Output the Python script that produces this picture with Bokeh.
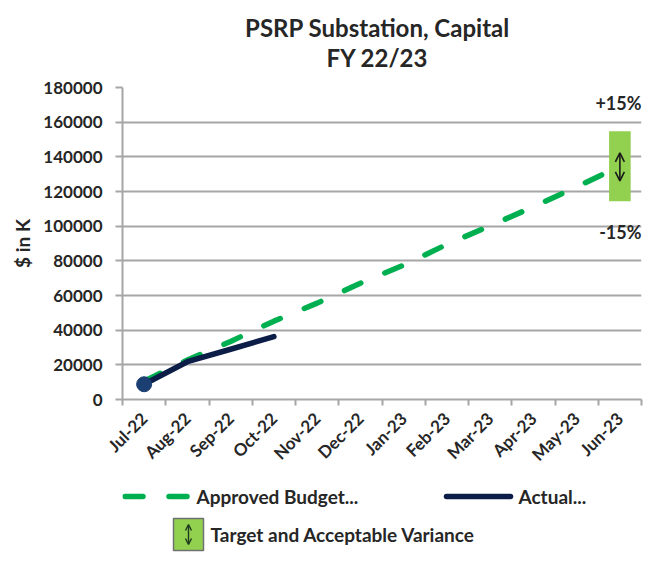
import numpy as np
from bokeh.plotting import figure
from bokeh.layouts import column
from bokeh.models import (Range1d, FixedTicker, Label, Arrow, OpenHead,
                          ColumnDataSource)
from bokeh.embed import file_html
from bokeh.resources import INLINE

# ---------------- data ----------------
months = ["Jul-22", "Aug-22", "Sep-22", "Oct-22", "Nov-22", "Dec-22",
          "Jan-23", "Feb-23", "Mar-23", "Apr-23", "May-23", "Jun-23"]
approved_budget = [10500, 22800, 33500, 45200, 55600, 67100,
                   77500, 89500, 100200, 111200, 122700, 134600]
actual = [8800, 21800, 29000, 36300]
variance_pct = 0.15
y_ticks = [0, 20000, 40000, 60000, 80000, 100000, 120000, 140000, 160000, 180000]
title_lines = ["PSRP Substation, Capital", "FY 22/23"]
legend_labels = ["Approved Budget...", "Actual...", "Target and Acceptable Variance"]

FONT = "Lato"
TXT = "#262626"
GRID = "#a6a6a6"
GREEN = "#00B050"
NAVY = "#0c1d47"
LIGHTGREEN = "#92D050"
W = 668
FL, FR = 122, 641   # frame left / right in page pixels


def blank(height):
    f = figure(width=W, height=height, output_backend="svg", toolbar_location=None,
               x_range=Range1d(FL, FR), y_range=Range1d(height, 0),
               min_border_left=FL, min_border_right=W - FR,
               min_border_top=0, min_border_bottom=0, outline_line_color=None)
    f.axis.visible = False
    f.grid.visible = False
    f.background_fill_color = "white"
    f.border_fill_color = "white"
    return f


# ---------------- title ----------------
tf = blank(72)
tf.text(x=[377, 377], y=[27, 57], text=title_lines, text_font={"value": FONT},
        text_font_size="24px", text_font_style="bold", text_color=TXT,
        text_align="center", text_baseline="middle")

# ---------------- main chart ----------------
xc = np.arange(len(months)) + 0.5
src_b = ColumnDataSource(dict(x=xc, y=approved_budget))
src_a = ColumnDataSource(dict(x=xc[:len(actual)], y=actual))

p = figure(width=W, height=406, output_backend="svg", toolbar_location=None,
           x_range=Range1d(0, 12), y_range=Range1d(0, 180000),
           min_border_left=FL, min_border_right=W - FR, min_border_top=15,
           min_border_bottom=79, outline_line_color=None)
p.background_fill_color = "white"
p.border_fill_color = "white"

# y axis
p.yaxis.ticker = FixedTicker(ticks=y_ticks)
p.yaxis.formatter.use_scientific = False
p.yaxis.axis_line_color = GRID
p.yaxis.axis_line_width = 2
p.yaxis.major_tick_line_color = GRID
p.yaxis.major_tick_line_width = 2
p.yaxis.major_tick_out = 7
p.yaxis.major_tick_in = 0
p.yaxis.minor_tick_line_color = None
p.yaxis.major_label_text_font = FONT
p.yaxis.major_label_text_font_size = "17px"
p.yaxis.major_label_text_font_style = "bold"
p.yaxis.major_label_text_color = TXT
p.yaxis.major_label_standoff = 13
p.yaxis.axis_label = "$ in K"
p.yaxis.axis_label_text_font = FONT
p.yaxis.axis_label_text_font_size = "19px"
p.yaxis.axis_label_text_font_style = "bold"
p.yaxis.axis_label_text_color = TXT
p.yaxis.axis_label_standoff = 6

# x axis
p.xaxis.ticker = FixedTicker(ticks=list(xc), minor_ticks=list(range(13)))
p.xaxis.major_label_overrides = {float(x): m for x, m in zip(xc, months)}
p.xaxis.major_label_orientation = np.pi / 4
p.xaxis.axis_line_color = GRID
p.xaxis.axis_line_width = 2
p.xaxis.major_tick_line_color = None
p.xaxis.minor_tick_line_color = GRID
p.xaxis.minor_tick_line_width = 2
p.xaxis.minor_tick_out = 6
p.xaxis.minor_tick_in = 0
p.xaxis.major_label_text_font = FONT
p.xaxis.major_label_text_font_size = "17px"
p.xaxis.major_label_text_font_style = "bold"
p.xaxis.major_label_text_color = TXT
p.xaxis.major_label_standoff = 10

p.xgrid.grid_line_color = None
p.ygrid.grid_line_color = GRID
p.ygrid.grid_line_width = 2

# series
p.line("x", "y", source=src_b, line_color=GREEN, line_width=5.5,
       line_dash="18 26", line_cap="round")
p.line("x", "y", source=src_a, line_color=NAVY, line_width=5.5,
       line_cap="round", line_join="round")
p.scatter(x=[xc[0]], y=[actual[0]], size=15, fill_color="#1b3f73",
          line_color="#1b3f73")

# target & acceptable variance
jun = approved_budget[-1]
p.vbar(x=[xc[-1]], width=0.5, bottom=[jun * (1 - variance_pct)],
       top=[jun * (1 + variance_pct)], fill_color=LIGHTGREEN, line_color=None)
p.add_layout(Arrow(x_start=xc[-1], y_start=jun * 0.937, x_end=xc[-1], y_end=jun * 1.057,
                   start=OpenHead(size=9, line_color="#1a1a1a", line_width=1.6),
                   end=OpenHead(size=9, line_color="#1a1a1a", line_width=1.6),
                   line_color="#1a1a1a", line_width=1.6))
p.add_layout(Label(x=12, y=jun * (1 + variance_pct) + 16000, text="+15%",
                   text_align="right", text_baseline="middle", text_font=FONT,
                   text_font_size="18px", text_font_style="bold", text_color=TXT))
p.add_layout(Label(x=12, y=jun * (1 - variance_pct) - 18000, text="-15%",
                   text_align="right", text_baseline="middle", text_font=FONT,
                   text_font_size="18px", text_font_style="bold", text_color=TXT))

# ---------------- legend ----------------
leg = blank(83)
leg.line(x=[124.5, 186.5], y=[18, 18], line_color=GREEN, line_width=5.5,
         line_dash="18 26", line_cap="round")
leg.line(x=[446, 510], y=[18, 18], line_color=NAVY, line_width=5.5, line_cap="round")
leg.quad(left=[173], right=[203], top=[40], bottom=[72], fill_color=LIGHTGREEN,
         line_color="#707070", line_width=1.5)
leg.add_layout(Arrow(x_start=188, y_start=66, x_end=188, y_end=46,
                     start=OpenHead(size=6, line_color="#1e3a1e", line_width=1.4),
                     end=OpenHead(size=6, line_color="#1e3a1e", line_width=1.4),
                     line_color="#1e3a1e", line_width=1.4))
leg.text(x=[196, 518, 210], y=[18, 18, 56], text=legend_labels,
         text_font={"value": FONT}, text_font_size="19px", text_font_style="bold",
         text_color=TXT, text_baseline="middle")

layout = column(tf, p, leg, spacing=0)
open("out.html", "w").write(file_html(layout, INLINE))
